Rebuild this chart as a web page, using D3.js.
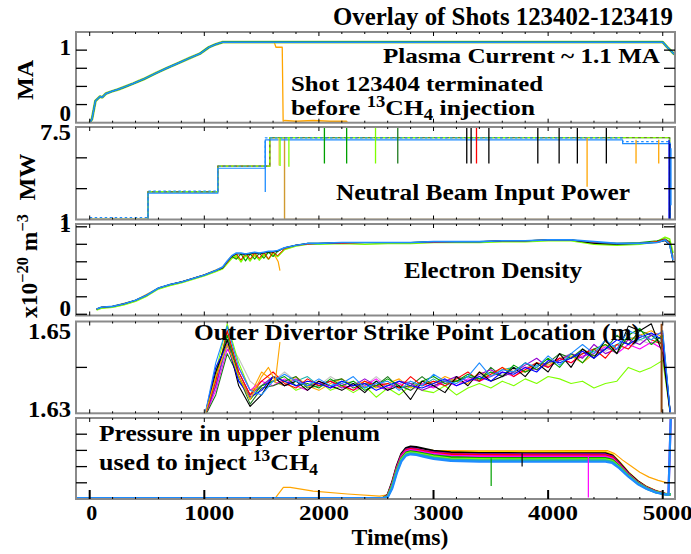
<!DOCTYPE html>
<html><head><meta charset="utf-8">
<script src="https://cdn.jsdelivr.net/npm/d3@7"></script>
<style>
body{margin:0;background:#fff}
text{font-family:"Liberation Serif","Times New Roman",serif;font-weight:bold;fill:#000}
</style></head>
<body><svg id="c" width="691" height="554"></svg>
<script>
// ---------------- DATA ----------------
const xTickValues = [0,1000,2000,3000,4000,5000];
const xTickLabels = ["0","1000","2000","3000","4000","5000"];

// Plasma current (MA)
const ipTime = [0,20,50,70,90,110,140,190,250,300,380,470,575,670,770,870,960,1040,1100,1160,2000,3000,4000,4800,5000,5040,5090,5107];
const ipMA   = [0,0.05,0.30,0.33,0.36,0.35,0.40,0.43,0.46,0.49,0.54,0.60,0.68,0.75,0.82,0.89,0.95,1.04,1.08,1.11,1.11,1.11,1.11,1.11,1.11,1.04,0.96,0.94];
const ipOrangeTime = [0,20,50,70,90,110,140,190,250,300,380,470,575,670,770,870,960,1040,1100,1160,1610,1625,1680,1688,1700,1800,1950,2100,2240,2250];
const ipOrangeMA   = [0,0.05,0.30,0.33,0.36,0.35,0.40,0.43,0.46,0.49,0.54,0.60,0.68,0.75,0.82,0.89,0.95,1.04,1.08,1.11,1.11,1.04,1.04,0.02,0.03,0.02,0.03,0.02,0.02,0];
const ipTickValues = [0,0.25,0.5,0.75,1];
const ipLabelValues = [0,1];
const ipLabels = ["0","1"];

// Neutral beam power (MW), step traces
const nbTopTime = [0,509,1118,1571,5060];
const nbTopMW   = [1,2.95,4.75,6.75,1];
const nbBlueTime = [0,509,1118,1532,4650,5065];
const nbBlueMW   = [1,2.85,4.6,6.6,6.33,1];
const nbOrangeTime = [0,509,1118,1571,1700,5065];
const nbOrangeMW   = [1,2.95,4.75,6.75,1,1];
const nbSpikeTime = [1532,1652,1661,1738,2048,2242,2494,2688,3290,3328,3375,3483,3910,4096,4255,4340,4508,4767,4965,5055,5062,5072];
const nbSpikeFrom = [6.5,6.75,6.75,6.75,7.5,7.5,7.5,7.5,7.5,7.5,7.5,7.5,7.5,7.5,7.5,6.75,7.5,6.6,6.6,6.6,6.3,6.0];
const nbSpikeTo   = [2.93,4.8,4.76,4.7,4.93,4.93,4.93,4.93,4.93,4.93,4.93,4.93,4.93,4.93,4.93,3.3,4.93,4.93,4.93,1,1,2.0];
const nbSpikeShot = ["dodger","lightorange","chartreuse","chartreuse","green","green","chartreuse","forest","black","black","red","black","black","black","black","orange","black","orange","orange","blue","navy","dodger"];
const nbTickValues = [1,3.1667,5.3333,7.5];
const nbLabelValues = [1,7.5];
const nbLabels = ["1","7.5"];

// Electron density (x10^20 m^-3)
const neTime = [60,100,200,300,400,500,600,700,800,900,1000,1100,1160,1200,1240,1280,1320,1360,1400,1440,1480,1520,1560,1600,1640,1700,1800,1900,2000,2200,2400,2600,2800,3000,3200,3400,3600,3800,4000,4200,4400,4600,4800,4950,5020,5060,5090];
const neBlue  = [0.06,0.08,0.09,0.12,0.16,0.22,0.30,0.34,0.37,0.41,0.45,0.50,0.54,0.61,0.67,0.70,0.70,0.69,0.70,0.71,0.70,0.71,0.72,0.72,0.73,0.76,0.79,0.81,0.81,0.82,0.82,0.82,0.82,0.83,0.83,0.83,0.84,0.84,0.85,0.85,0.83,0.81,0.81,0.82,0.85,0.80,0.62];
const neLime  = [0.05,0.07,0.08,0.11,0.15,0.21,0.29,0.33,0.36,0.40,0.44,0.49,0.52,0.58,0.64,0.68,0.60,0.68,0.61,0.69,0.62,0.69,0.63,0.70,0.66,0.74,0.78,0.80,0.80,0.81,0.80,0.81,0.81,0.82,0.82,0.82,0.83,0.83,0.84,0.84,0.80,0.79,0.80,0.83,0.88,0.86,0.70];
const neGreen = [0.06,0.08,0.09,0.12,0.16,0.22,0.30,0.34,0.37,0.41,0.45,0.50,0.53,0.60,0.66,0.63,0.69,0.61,0.69,0.63,0.70,0.64,0.71,0.66,0.72,0.76,0.79,0.81,0.81,0.82,0.82,0.82,0.82,0.83,0.83,0.83,0.84,0.84,0.85,0.85,0.82,0.81,0.82,0.84,0.86,0.83,0.66];
const neRed   = [0.06,0.08,0.09,0.12,0.16,0.22,0.30,0.34,0.37,0.41,0.45,0.50,0.53,0.59,0.66,0.69,0.62,0.70,0.63,0.70,0.64,0.71,0.63,0.71,0.67,0.75,0.79,0.80,0.81,0.81,0.82,0.82,0.82,0.82,0.83,0.83,0.84,0.84,0.85,0.85,0.82,0.81,0.81,0.83,0.86,0.82,0.64];
const neBlack = [0.06,0.08,0.09,0.12,0.16,0.22,0.30,0.34,0.37,0.41,0.45,0.50,0.53,0.60,0.66,0.69,0.69,0.68,0.69,0.70,0.69,0.70,0.71,0.71,0.72,0.76,0.79,0.81,0.81,0.82,0.82,0.82,0.82,0.83,0.83,0.83,0.84,0.84,0.85,0.85,0.81,0.80,0.81,0.82,0.84,0.79,0.60];
const neOrangeTime = [60,200,400,600,800,1000,1160,1240,1320,1400,1480,1560,1620,1645,1660];
const neOrange     = [0.06,0.09,0.16,0.30,0.37,0.45,0.54,0.67,0.62,0.70,0.63,0.71,0.66,0.60,0.50];
const neTickValues = [0,0.2,0.4,0.6,0.8,1];
const neLabelValues = [0,1];
const neLabels = ["0","1"];

// Outer divertor strike point (m)
const spTime = [1000,1100,1200,1300,1400,1500,1600,1700,1800,1900,2000,2100,2200,2300,2400,2500,2600,2700,2800,2900,3000,3100,3200,3300,3400,3500,3600,3700,3800,3900,4000,4100,4200,4300,4400,4500,4600,4700,4800,4900,5000,5070];
const spSilver = [1.629,1.638,1.646,1.642,1.637,1.635,1.637,1.639,1.637,1.636,1.636,1.638,1.6365,1.637,1.636,1.638,1.636,1.6365,1.637,1.636,1.637,1.6365,1.638,1.637,1.638,1.639,1.6385,1.6395,1.640,1.641,1.640,1.642,1.643,1.642,1.644,1.6435,1.645,1.644,1.646,1.645,1.646,1.629];
const spTeal   = [1.629,1.636,1.645,1.637,1.634,1.636,1.637,1.636,1.637,1.638,1.636,1.636,1.637,1.6365,1.6355,1.637,1.636,1.637,1.6365,1.636,1.6375,1.636,1.637,1.638,1.6375,1.638,1.6395,1.640,1.639,1.6405,1.641,1.6415,1.642,1.643,1.6435,1.644,1.645,1.6465,1.646,1.647,1.646,1.629];
const spLime   = [1.629,1.639,1.6495,1.641,1.635,1.636,1.638,1.637,1.635,1.636,1.637,1.635,1.636,1.6345,1.636,1.6335,1.6355,1.634,1.636,1.635,1.6345,1.636,1.634,1.6355,1.6365,1.6355,1.637,1.636,1.6375,1.6365,1.638,1.6375,1.6365,1.637,1.6355,1.6365,1.637,1.640,1.639,1.640,1.6415,1.629];
const spOrange = [1.629,1.637,1.648,1.638,1.634,1.639,1.637,1.636,1.638,1.636,1.635,1.6365,1.6375,1.636,1.637,1.6355,1.6365,1.6375,1.6355,1.637,1.6365,1.638,1.637,1.6365,1.639,1.638,1.640,1.639,1.639,1.641,1.6405,1.642,1.6425,1.641,1.643,1.645,1.644,1.646,1.647,1.648,1.6465,1.629];
const spMagenta= [1.629,1.635,1.644,1.640,1.635,1.637,1.636,1.6375,1.636,1.635,1.637,1.6355,1.6365,1.635,1.636,1.6375,1.6355,1.6365,1.635,1.6365,1.6355,1.637,1.636,1.6375,1.637,1.638,1.639,1.638,1.640,1.6395,1.641,1.642,1.641,1.6425,1.643,1.6445,1.643,1.645,1.644,1.6455,1.644,1.629];
const spForest = [1.629,1.634,1.643,1.638,1.632,1.6355,1.636,1.637,1.638,1.6355,1.636,1.637,1.6375,1.6355,1.6365,1.636,1.638,1.6355,1.636,1.638,1.636,1.637,1.637,1.638,1.637,1.640,1.638,1.639,1.641,1.6395,1.641,1.643,1.642,1.644,1.6425,1.644,1.647,1.645,1.648,1.647,1.645,1.629];
const spPurple = [1.629,1.636,1.646,1.639,1.634,1.636,1.638,1.636,1.6375,1.636,1.6365,1.637,1.6355,1.636,1.6375,1.636,1.635,1.637,1.6365,1.635,1.636,1.637,1.638,1.637,1.6385,1.6395,1.638,1.639,1.6405,1.642,1.640,1.6415,1.643,1.642,1.645,1.643,1.644,1.646,1.645,1.647,1.6475,1.629];
const spRed    = [1.629,1.637,1.648,1.639,1.634,1.637,1.639,1.6365,1.6355,1.6375,1.636,1.637,1.636,1.635,1.637,1.636,1.6365,1.6355,1.638,1.636,1.637,1.636,1.6375,1.639,1.637,1.6385,1.640,1.638,1.6395,1.641,1.640,1.642,1.641,1.643,1.644,1.642,1.645,1.644,1.647,1.646,1.645,1.629];
const spGreen  = [1.629,1.638,1.647,1.638,1.633,1.636,1.637,1.638,1.636,1.6365,1.6355,1.6375,1.636,1.637,1.635,1.636,1.6375,1.636,1.635,1.637,1.638,1.6365,1.637,1.6385,1.6375,1.639,1.638,1.6405,1.639,1.640,1.642,1.640,1.643,1.641,1.644,1.645,1.643,1.647,1.6485,1.645,1.647,1.629];
const spBlack  = [1.629,1.639,1.646,1.636,1.6315,1.634,1.638,1.636,1.637,1.635,1.637,1.636,1.635,1.6365,1.6345,1.637,1.635,1.636,1.633,1.637,1.636,1.6345,1.638,1.636,1.639,1.637,1.638,1.640,1.638,1.641,1.639,1.643,1.640,1.644,1.642,1.646,1.643,1.649,1.648,1.6495,1.643,1.629];
const spBlue   = [1.629,1.640,1.645,1.637,1.6335,1.635,1.638,1.637,1.636,1.637,1.6365,1.6355,1.637,1.636,1.6365,1.635,1.636,1.637,1.636,1.6355,1.6365,1.6375,1.636,1.637,1.638,1.637,1.639,1.6385,1.640,1.639,1.6415,1.641,1.642,1.6435,1.642,1.644,1.646,1.645,1.6465,1.6475,1.646,1.629];
const spDodger = [1.629,1.641,1.649,1.640,1.635,1.634,1.637,1.6385,1.637,1.636,1.6375,1.636,1.6365,1.638,1.6355,1.6365,1.637,1.635,1.637,1.636,1.6385,1.637,1.6365,1.638,1.641,1.638,1.6395,1.639,1.641,1.640,1.6425,1.6405,1.643,1.645,1.643,1.646,1.644,1.648,1.647,1.646,1.648,1.629];
const spShortTime = [1000,1100,1200,1300,1400,1500,1560,1620,1660];
const spShortOrange = [1.629,1.638,1.645,1.638,1.633,1.638,1.640,1.637,1.6455];
const spSpikeTime = [4990];
const spSpikeFrom = [1.6495];
const spSpikeTo   = [1.63];
const spSpikeShot = ["brown"];
const spTickValues = [1.63,1.64,1.65];
const spLabelValues = [1.63,1.65];
const spLabels = ["1.63","1.65"];

// Upper plenum pressure (arbitrary units)
const prTime = [-120,2560,2600,2640,2680,2720,2760,2800,2850,2920,3000,3150,3400,3800,4200,4500,4560,4620,4700,4780,4860,4940,5020,5050,5070];
const prDodger = [0.05,0.06,0.10,0.65,1.60,2.32,2.68,2.76,2.72,2.60,2.48,2.35,2.31,2.30,2.30,2.30,2.22,1.90,1.38,0.93,0.62,0.40,0.29,0.27,5.0];
const prTeal   = [0.05,0.06,0.13,0.75,1.70,2.40,2.74,2.82,2.78,2.68,2.56,2.43,2.39,2.38,2.38,2.38,2.30,1.96,1.42,0.96,0.64,0.41,0.29,0.27,0.30];
const prLime   = [0.05,0.06,0.15,0.80,1.75,2.46,2.80,2.88,2.84,2.74,2.63,2.50,2.46,2.45,2.45,2.45,2.36,2.00,1.44,0.98,0.65,0.42,0.30,0.28,0.30];
const prGreen  = [0.05,0.06,0.16,0.85,1.80,2.52,2.86,2.94,2.90,2.80,2.70,2.58,2.53,2.52,2.52,2.52,2.42,2.05,1.47,1.00,0.67,0.43,0.30,0.28,0.30];
const prMagenta= [0.05,0.06,0.18,0.88,1.85,2.60,2.95,3.02,2.98,2.88,2.78,2.67,2.63,2.62,2.62,2.62,2.50,2.10,1.50,1.02,0.68,0.44,0.31,0.29,0.30];
const prRed    = [0.05,0.06,0.20,0.92,1.90,2.65,3.00,3.08,3.04,2.94,2.84,2.75,2.71,2.70,2.70,2.70,2.58,2.15,1.52,1.03,0.69,0.45,0.31,0.29,0.30];
const prPurple = [0.05,0.06,0.20,0.95,1.95,2.70,3.05,3.12,3.08,2.98,2.88,2.79,2.76,2.75,2.75,2.75,2.62,2.18,1.55,1.05,0.70,0.46,0.32,0.30,5.0];
const prBlack  = [0.05,0.06,0.25,1.05,2.05,2.80,3.15,3.23,3.20,3.10,2.98,2.88,2.84,2.82,2.82,2.82,2.68,2.25,1.60,1.10,0.72,0.48,0.32,0.30,0.30];
const prYellow = [0.05,0.06,0.22,1.00,2.00,2.75,3.10,3.18,3.15,3.05,2.96,2.90,2.90,2.90,2.90,2.90,2.75,2.30,1.65,1.12,0.75,0.50,0.33,0.30,0.30];
const prOrangeTime = [-120,1620,1640,1690,1750,1950,2250,2530,2600,2640,2680,2720,2760,2800,2850,2920,3000,3150,3400,3800,4200,4520,4580,4650,4720,4800,4880,4960,5040,5060];
const prOrange     = [0.05,0.05,0.25,0.72,0.72,0.49,0.31,0.18,0.25,0.90,1.80,2.60,3.00,3.10,3.10,3.05,3.00,2.98,2.97,2.97,2.98,2.98,2.80,2.40,2.05,1.65,1.35,1.15,1.00,0.95];
const prSpikeTime = [3503,3773,4351];
const prSpikeFrom = [2.52,2.82,2.60];
const prSpikeTo   = [0.80,2.00,0.10];
const prSpikeShot = ["green","black","magenta"];
const prTickValues = [0,1,2,3,4,5];

// ---------------- STYLE ----------------
const C = {black:"#000000",red:"#ff0000",green:"#00a000",blue:"#0000ff",dodger:"#1e8cff",purple:"#9400d3",
  magenta:"#ff00ff",orange:"#ffa500",chartreuse:"#7fff00",silver:"#c4c4c4",forest:"#1f7a1f",teal:"#20b2aa",
  yellow:"#ffd700",brown:"#8b4513",navy:"#000080",lightorange:"#ffc864",yellowgreen:"#9acd32",olive:"#6b8e23",base:"#5f8a78"};

const svg = d3.select("#c");
const defs = svg.append("defs");
const X0 = 76, X1 = 675;
const x = d3.scaleLinear().domain([-119.5, 5107]).range([X0, X1]);

function makePanel(id, top, bottom, domain){
  const y = d3.scaleLinear().domain(domain).range([bottom, top]);
  defs.append("clipPath").attr("id","clip-"+id).append("rect")
    .attr("x",X0).attr("y",top).attr("width",X1-X0).attr("height",bottom-top);
  const g = svg.append("g").attr("clip-path","url(#clip-"+id+")");
  return {id, top, bottom, y, g};
}
function trace(p, times, vals, color, w, curve, extra){
  const line = d3.line().x(d=>x(d[0])).y(d=>p.y(d[1])).curve(curve||d3.curveLinear);
  const path = p.g.append("path").datum(d3.zip(times, vals)).attr("d", line)
    .attr("fill","none").attr("stroke", color).attr("stroke-width", w||1).attr("stroke-linejoin","round");
  if (extra) extra(path);
  return path;
}
function spikes(p, times, from, to, shots, w){
  p.g.selectAll(null).data(d3.range(times.length)).enter().append("line")
    .attr("x1", i=>x(times[i])).attr("x2", i=>x(times[i]))
    .attr("y1", i=>p.y(from[i])).attr("y2", i=>p.y(to[i]))
    .attr("stroke", i=>C[shots[i]]).attr("stroke-width", w||1.2);
}
function frame(p, yTicks, bigBottom){
  const f = svg.append("g");
  f.append("rect").attr("x",X0).attr("y",p.top).attr("width",X1-X0).attr("height",p.bottom-p.top)
    .attr("fill","none").attr("stroke","#8a8a8a").attr("stroke-width",2);
  yTicks.forEach(v=>{
    const yy = p.y(v);
    if (Math.abs(yy-p.top)<1 || Math.abs(yy-p.bottom)<1) return;
    f.append("line").attr("x1",X0).attr("x2",X0+11).attr("y1",yy).attr("y2",yy).attr("stroke","#000").attr("stroke-width",1.3);
    f.append("line").attr("x1",X1-11).attr("x2",X1).attr("y1",yy).attr("y2",yy).attr("stroke","#000").attr("stroke-width",1.3);
  });
  d3.range(0, 5001, 200).forEach(t=>{
    const major = xTickValues.includes(t);
    const len = major ? 4 : 2;
    f.append("line").attr("x1",x(t)).attr("x2",x(t)).attr("y1",p.top).attr("y2",p.top+len).attr("stroke","#000").attr("stroke-width",1);
    const lb = (major && bigBottom) ? 9 : len;
    f.append("line").attr("x1",x(t)).attr("x2",x(t)).attr("y1",p.bottom).attr("y2",p.bottom-lb)
      .attr("stroke","#000").attr("stroke-width",(major && bigBottom)?2:1);
  });
}
function ylabels(p, vals, labels, offsets, widths){
  vals.forEach((v,i)=>{
    const t = svg.append("text").attr("x",71).attr("y",p.y(v)+offsets[i]).attr("text-anchor","end")
      .attr("font-size",23).text(labels[i]);
    if (widths[i]) t.attr("textLength",widths[i]).attr("lengthAdjust","spacingAndGlyphs");
  });
}
function txt(s, xx, yy, size, len, anchor){
  const t = svg.append("text").attr("x",xx).attr("y",yy).attr("font-size",size).attr("text-anchor",anchor||"start").text(s);
  if (len) t.attr("textLength",len).attr("lengthAdjust","spacingAndGlyphs");
  return t;
}

// ---------------- PANEL 1: plasma current ----------------
const p1 = makePanel("ip", 32, 122.7, [0, 1.25]);
trace(p1, ipOrangeTime, ipOrangeMA, C.orange, 1.3);
trace(p1, ipTime, ipMA, C.yellowgreen, 2.8);
trace(p1, ipTime, ipMA, C.green, 1.6);
trace(p1, ipTime, ipMA, C.dodger, 1.5);
frame(p1, ipTickValues);
ylabels(p1, ipLabelValues, ipLabels, [-1.5, 5], [0,0]);

// ---------------- PANEL 2: neutral beam ----------------
const p2 = makePanel("nb", 127, 219.5, [1, 7.5]);
trace(p2, nbTopTime, nbTopMW, C.base, 1.4, d3.curveStepAfter);
trace(p2, nbOrangeTime, nbOrangeMW, "#d09a30", 1.4, d3.curveStepAfter);
trace(p2, nbTopTime, nbTopMW, C.olive, 1.4, d3.curveStepAfter, p=>p.attr("stroke-dasharray","3,3"));
trace(p2, nbTopTime, nbTopMW, C.chartreuse, 1.4, d3.curveStepAfter, p=>p.attr("stroke-dasharray","3,3").attr("stroke-dashoffset",3));
trace(p2, nbBlueTime, nbBlueMW, C.dodger, 1.2, d3.curveStepAfter);
trace(p2, nbBlueTime, nbBlueMW, C.dodger, 1.2, d3.curveStepAfter, p=>p.attr("stroke-dasharray","2.5,2.5").attr("transform","translate(0,-2)"));
spikes(p2, nbSpikeTime, nbSpikeFrom, nbSpikeTo, nbSpikeShot, 1.3);
frame(p2, nbTickValues);
ylabels(p2, nbLabelValues, nbLabels, [9, 13], [0, 31]);

// ---------------- PANEL 3: electron density ----------------
const p3 = makePanel("ne", 224, 315.5, [-0.014, 1.032]);
trace(p3, neOrangeTime, neOrange, C.orange, 1.2);
trace(p3, neTime, neLime, C.chartreuse, 1.6);
trace(p3, neTime, neGreen, C.green, 1.1);
trace(p3, neTime, neRed, C.red, 1.0);
trace(p3, neTime, neBlack, C.black, 1.0);
trace(p3, neTime, neBlue, C.dodger, 1.6);
frame(p3, neTickValues);
ylabels(p3, neLabelValues, neLabels, [2, 5], [0,0]);

// ---------------- PANEL 4: strike point ----------------
const p4 = makePanel("sp", 321.5, 413.3, [1.63, 1.65]);
[[spSilver,C.silver],[spTeal,C.teal],[spLime,C.chartreuse],[spOrange,C.orange],[spMagenta,C.magenta],
 [spForest,C.forest],[spPurple,C.purple],[spRed,C.red],[spGreen,C.green],[spBlack,C.black],
 [spBlue,C.blue],[spDodger,C.dodger]].forEach(s=>trace(p4, spTime, s[0], s[1], 1.1));
trace(p4, spShortTime, spShortOrange, C.orange, 1.1);
spikes(p4, spSpikeTime, spSpikeFrom, spSpikeTo, spSpikeShot, 2);
frame(p4, spTickValues);
ylabels(p4, spLabelValues, spLabels, [4, 17], [43, 43]);

// ---------------- PANEL 5: pressure ----------------
const p5 = makePanel("pr", 418, 499, [0, 5]);
trace(p5, prOrangeTime, prOrange, C.orange, 1.2);
[[prYellow,C.yellow],[prBlack,C.black],[prPurple,C.purple],[prRed,C.red],[prMagenta,C.magenta],
 [prGreen,C.green],[prLime,C.chartreuse],[prTeal,C.teal],[prDodger,C.dodger]].forEach(s=>trace(p5, prTime, s[0], s[1], 2.2));
spikes(p5, prSpikeTime, prSpikeFrom, prSpikeTo, prSpikeShot, 1.2);
frame(p5, prTickValues, true);

// ---------------- TEXT ----------------
txt("Overlay of Shots 123402-123419", 333, 25, 26, 340);
txt("Plasma Current ~ 1.1 MA", 383, 63, 22, 277);
txt("Shot 123404 terminated", 291, 91, 22, 252);
{
  const t = svg.append("text").attr("x",291).attr("y",115).attr("font-size",22)
    .attr("textLength",244).attr("lengthAdjust","spacingAndGlyphs");
  t.append("tspan").text("before ");
  t.append("tspan").attr("font-size",16).attr("dy",-8).text("13");
  t.append("tspan").attr("dy",8).text("CH");
  t.append("tspan").attr("font-size",16).attr("dy",5).text("4");
  t.append("tspan").attr("dy",-5).text(" injection");
}
txt("Neutral Beam Input Power", 336, 200, 24, 294);
txt("Electron Density", 404, 278, 23, 178);
txt("Outer Divertor Strike Point Location (m)", 194, 340, 24, 446);
txt("Pressure in upper plenum", 99, 441, 24, 281);
{
  const t = svg.append("text").attr("x",99).attr("y",470).attr("font-size",24)
    .attr("textLength",219).attr("lengthAdjust","spacingAndGlyphs");
  t.append("tspan").text("used to inject ");
  t.append("tspan").attr("font-size",16).attr("dy",-9).text("13");
  t.append("tspan").attr("dy",9).text("CH");
  t.append("tspan").attr("font-size",16).attr("dy",5).text("4");
}
xTickValues.forEach((v,i)=>{
  txt(xTickLabels[i], x(v)+ (i===0?2:5), 520, 22, xTickLabels[i].length>1?50:0, "middle");
});
txt("Time(ms)", 400, 545, 23, 97, "middle");

function ytitle(cx, cy, len, build){
  const t = svg.append("text").attr("transform",`translate(${cx},${cy}) rotate(-90)`)
    .attr("text-anchor","middle").attr("font-size",23).attr("textLength",len).attr("lengthAdjust","spacingAndGlyphs");
  build(t);
}
ytitle(33, 80, 40, t=>t.text("MA"));
ytitle(35, 177, 47, t=>t.text("MW"));
ytitle(37, 266, 104, t=>{
  t.append("tspan").text("x10");
  t.append("tspan").attr("font-size",16).attr("dy",-9).text("\u221220");
  t.append("tspan").attr("dy",9).text(" m");
  t.append("tspan").attr("font-size",16).attr("dy",-9).text("\u22123");
});
</script></body></html>
